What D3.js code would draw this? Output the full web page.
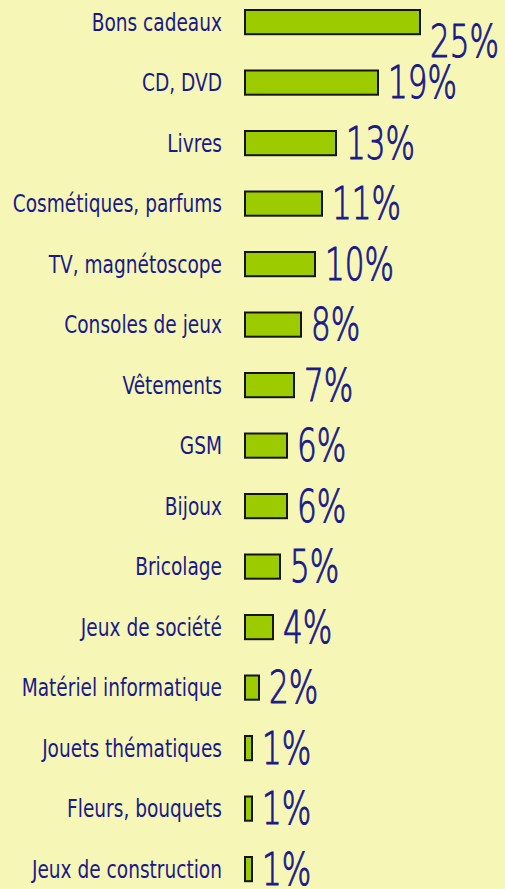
<!DOCTYPE html>
<html lang="fr">
<head>
  <meta charset="UTF-8"/>
  <title>Cadeaux</title>
  <style>
    * { margin: 0; padding: 0; }
    body { background: #f6f6b6; width: 505px; height: 889px; overflow: hidden; }
    svg { display: block; }
    .cat { font-family: "DejaVu Sans Condensed", "Liberation Sans Narrow", sans-serif; font-stretch: condensed; font-size: 24px; fill: #19198a; }
    .val { font-family: "DejaVu Sans", sans-serif; font-weight: 200; font-size: 44px; fill: #19198a; stroke: #19198a; stroke-width: 1px; }
  </style>
</head>
<body>
  <div id="chart"></div>
  <script src="https://cdn.jsdelivr.net/npm/d3@7/dist/d3.min.js"></script>
  <script>
    // --- data ---
    const categories = [
      'Bons cadeaux', 'CD, DVD', 'Livres', 'Cosmétiques, parfums', 'TV, magnétoscope',
      'Consoles de jeux', 'Vêtements', 'GSM', 'Bijoux', 'Bricolage',
      'Jeux de société', 'Matériel informatique', 'Jouets thématiques',
      'Fleurs, bouquets', 'Jeux de construction'
    ]
    const values = [25, 19, 13, 11, 10, 8, 7, 6, 6, 5, 4, 2, 1, 1, 1]

    const W = 505, H = 889
    const rows = categories.map((c, i) => ({ cat: c, value: values[i] }))

    const svg = d3.select('#chart').append('svg')
      .attr('width', W).attr('height', H)

    const x = d3.scaleLinear().domain([0, 25]).range([245, 420])
    const y = d3.scaleBand()
      .domain(categories)
      .range([-8.15, 899.35])
      .paddingInner(0.6)
      .paddingOuter(0.3)

    const catSqueeze = 0.86  // original font is much narrower than anything installed
    const valWidth = 69      // width of "25%" in the original, used to fit the squeeze

    const g = svg.selectAll('g.row')
      .data(rows)
      .join('g')
        .attr('class', 'row')

    g.append('rect')
      .attr('x', x(0))
      .attr('y', d => y(d.cat))
      .attr('width', d => x(d.value) - x(0))
      .attr('height', y.bandwidth())
      .attr('fill', '#9ccb00')
      .attr('stroke', '#141414')
      .attr('stroke-width', 2)

    g.append('text')
      .attr('class', 'cat')
      .attr('transform', d => `translate(222,${y(d.cat) + y.bandwidth() / 2}) scale(${catSqueeze},1)`)
      .attr('dy', '0.36em')
      .attr('text-anchor', 'end')
      .text(d => d.cat)

    const vals = g.append('text')
      .attr('class', 'val')
      .attr('dy', '0.36em')
      .text(d => d.value + '%')

    const valSqueeze = valWidth / vals.nodes()[0].getComputedTextLength()

    // first value label sits a bit lower in the original
    vals.attr('transform', (d, i) => `translate(${x(d.value) + 10},${y(d.cat) + y.bandwidth() / 2 + (i === 0 ? 19 : 0)}) scale(${valSqueeze},1)`)
  </script>
</body>
</html>
